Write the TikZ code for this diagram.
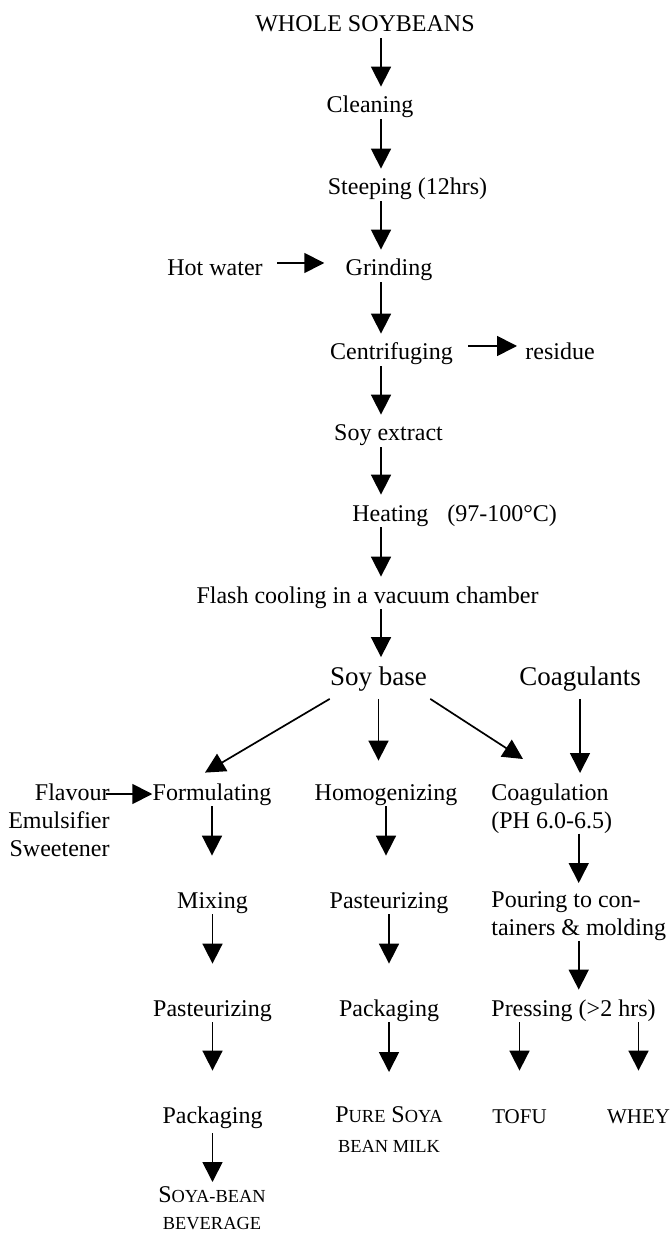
\documentclass[tikz,border=0pt]{standalone}
\usepackage{fontspec}
\setmainfont{Liberation Serif}
\usepackage{tikz}
\usetikzlibrary{arrows.meta, positioning}
\newcommand{\smallcap}[1]{{\fontsize{9.2}{11}\selectfont #1}}

\begin{document}
\begin{tikzpicture}[x=0.5pt, y=-0.5pt,
  stage/.style={inner sep=0pt, font=\fontsize{12}{14}\selectfont, text height=9pt, text depth=3pt},
  block/.style={inner sep=0pt, font=\fontsize{12}{14}\selectfont},
  big/.style={inner sep=0pt, font=\fontsize{13.5}{16}\selectfont, text height=10pt, text depth=3.5pt},
  product/.style={inner sep=0pt, font=\fontsize{10.5}{12}\selectfont, text height=9pt, text depth=3pt},
  flow/.style={-{Triangle[width=10pt, length=10pt]}, line width=0.85pt, shorten >=4pt},
  longflow/.style={flow, shorten >=17pt}]
  \useasboundingbox (0,0) rectangle (669,1234);
  \coordinate (spine) at (381,0);
  % Main line
  \node[stage] (wsb) at (365,26) {WHOLE SOYBEANS};
  \node[stage] (clean) at (370,107) {Cleaning};
  \node[stage] (steep) at (407.5,189) {Steeping (12hrs)};
  \node[stage] (grind) at (389,270) {Grinding};
  \node[stage] (hot) at (215,270) {Hot water};
  \node[stage] (cent) at (391.5,354) {Centrifuging};
  \node[stage, anchor=west] (res) at (525,354) {residue};
  \node[stage] (ext) at (388.5,435) {Soy extract};
  \node[stage, anchor=west] (heat) at (352,515) {Heating\hspace{9.5pt}(97-100\textdegree C)};
  \node[stage] (flash) at (367.5,597) {Flash cooling in a vacuum chamber};
  \node[big] (soy) at (378.5,679) {Soy base};
  \node[big] (cgl) at (580,679) {Coagulants};
  % Arrows of the main line
  \draw[flow] (wsb.south -| spine) -- (clean.north -| spine);
  \draw[flow] (clean.south -| spine) -- (steep.north -| spine);
  \draw[flow] (steep.south -| spine) -- (grind.north -| spine);
  \draw[flow] (grind.south -| spine) -- (cent.north -| spine);
  \draw[flow] (cent.south -| spine) -- (ext.north -| spine);
  \draw[flow] (ext.south -| spine) -- (heat.north -| spine);
  \draw[flow] (heat.south -| spine) -- (flash.north -| spine);
  \draw[flow] (flash.south -| spine) -- (soy.north -| spine);
  \draw[flow, shorten <=7pt, shorten >=10.5pt] ([yshift=3.5pt]hot.east) -- ([yshift=3.5pt]grind.west);
  \draw[flow, shorten <=7.5pt] ([yshift=4pt]cent.east) -- ([yshift=4pt]res.west);
  % Branches
  \node[stage] (form) at (212,794) {Formulating};
  \node[stage] (homog) at (386,794) {Homogenizing};
  \node[block, anchor=north west, align=left] (coag) at (491,783) {Coagulation\\(PH 6.0-6.5)};
  \node[block, anchor=north east, align=right] (adds) at (110,783) {Flavour\\Emulsifier\\Sweetener};
  \draw[flow, shorten >=0pt] ([yshift=-3pt]soy.south west) -- ([xshift=-3.5pt, yshift=4.5pt]form.north);
  \draw[flow, shorten >=13.5pt] ([yshift=-3pt]soy.south) -- ([yshift=-3pt]soy.south |- homog.north);
  \draw[flow, shorten >=0pt] ([xshift=1.5pt, yshift=-3pt]soy.south east) -- ([xshift=16pt, yshift=12pt]coag.north west);
  \draw[flow, shorten <=3pt, shorten >=5pt] (cgl.south) -- (cgl.south |- coag.north);
  \draw[flow, shorten <=-2pt, shorten >=0pt] (adds.north east |- form.west) -- (form.west);
  % Beverage
  \node[stage] (mix) at (212.5,902) {Mixing};
  \node[stage] (past) at (212.5,1010) {Pasteurizing};
  \node[stage] (pack) at (212.5,1117) {Packaging};
  \node[block, anchor=north, align=center] (bev) at (212,1186) {S\smallcap{OYA-BEAN}\\[-0.5pt]\smallcap{BEVERAGE}};
  \draw[longflow] (form.south) -- (form.south |- mix.north);
  \draw[longflow] (mix.south) -- (mix.south |- past.north);
  \draw[longflow] (past.south) -- (past.south |- pack.north);
  \draw[flow, shorten <=2pt, shorten >=2pt] (pack.south) -- (pack.south |- bev.north);
  % Soya bean milk
  \node[stage] (pastb) at (389,902) {Pasteurizing};
  \node[stage] (packb) at (389,1010) {Packaging};
  \node[block, anchor=north, align=center] (pure) at (389,1106) {P\smallcap{URE} S\smallcap{OYA}\\[1pt]\smallcap{BEAN MILK}};
  \draw[longflow] (homog.south) -- (homog.south |- pastb.north);
  \draw[longflow] (pastb.south) -- (pastb.south |- packb.north);
  \draw[longflow] (packb.south) -- (packb.south |- pure.north);
  % Tofu
  \node[block, anchor=north west, align=left] (pour) at (491,891) {Pouring to con-\\tainers \& molding};
  \node[stage, anchor=west] (press) at (491,1010) {Pressing (>2 hrs)};
  \node[product] (tofu) at (519.5,1117) {TOFU};
  \node[product] (whey) at (638.5,1117) {WHEY};
  \draw[flow] (coag.south -| pour.north) -- (pour.north);
  \draw[flow] (pour.south) -- (pour.south |- press.north);
  \draw[longflow] (tofu.north |- press.south) -- (tofu.north);
  \draw[longflow] (whey.north |- press.south) -- (whey.north);
\end{tikzpicture}
\end{document}
